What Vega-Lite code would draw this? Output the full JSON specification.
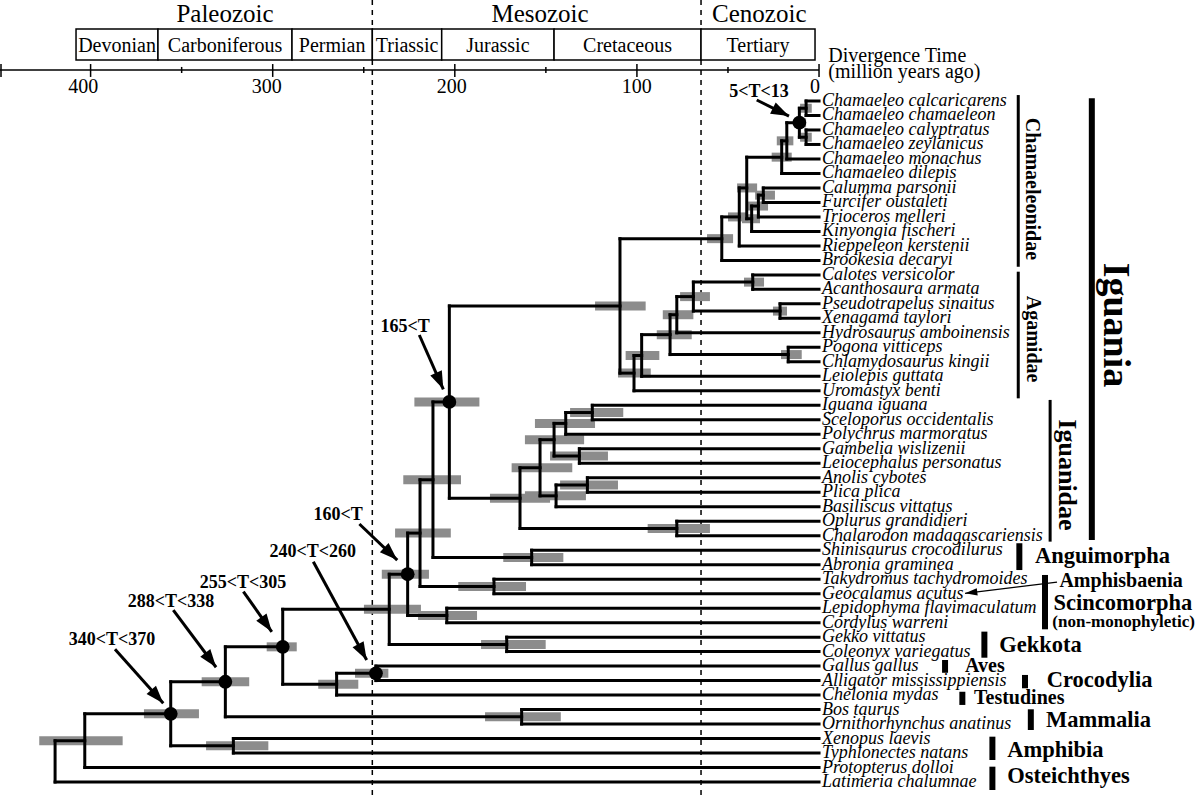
{
  "$schema": "https://vega.github.io/schema/vega-lite/v6.json",
  "width": 1200,
  "height": 800,
  "autosize": {"type": "none"},
  "padding": 0,
  "background": "white",
  "config": {"view": {"stroke": null}, "text": {"font": "Liberation Serif", "color": "black"}},
  "datasets": {
    "tree": [
      {"id": "A", "t": 7.1, "r": 0.5, "parent": "C", "lo": 4.0, "hi": 10.4},
      {"id": "B", "t": 7.1, "r": 2.5, "parent": "C", "lo": 4.0, "hi": 10.4},
      {"id": "C", "t": 10.8, "r": 1.5, "parent": "D", "lo": 7.1, "hi": 13.2, "cal": 1},
      {"id": "D", "t": 17.7, "r": 2.75, "parent": "E", "lo": 14.1, "hi": 23.2},
      {"id": "E", "t": 20.5, "r": 3.875, "parent": "J", "lo": 15.0, "hi": 26.0},
      {"id": "F", "t": 30.6, "r": 6.5, "parent": "G", "lo": 24.2, "hi": 35.1},
      {"id": "G", "t": 33.3, "r": 7.25, "parent": "H", "lo": 28.0, "hi": 39.0},
      {"id": "H", "t": 37.0, "r": 8.125, "parent": "J", "lo": 32.4, "hi": 42.3},
      {"id": "J", "t": 39.7, "r": 6.0, "parent": "I", "lo": 34.0, "hi": 45.0},
      {"id": "I", "t": 43.8, "r": 8.0, "parent": "K", "lo": 39.0, "hi": 50.0},
      {"id": "K", "t": 53.4, "r": 9.5, "parent": "L", "lo": 47.2, "hi": 61.5},
      {"id": "M", "t": 36.4, "r": 12.5, "parent": "O", "lo": 30.2, "hi": 41.2},
      {"id": "N", "t": 21.4, "r": 14.5, "parent": "O", "lo": 17.6, "hi": 25.3},
      {"id": "O", "t": 69.0, "r": 13.5, "parent": "P", "lo": 59.9, "hi": 76.3},
      {"id": "P", "t": 78.1, "r": 14.75, "parent": "R", "lo": 69.0, "hi": 85.8},
      {"id": "Q", "t": 16.9, "r": 17.5, "parent": "R", "lo": 9.5, "hi": 20.9},
      {"id": "R", "t": 81.8, "r": 16.125, "parent": "S", "lo": 69.9, "hi": 89.1},
      {"id": "S", "t": 97.4, "r": 17.5625, "parent": "T", "lo": 87.7, "hi": 106.2},
      {"id": "T", "t": 101.6, "r": 18.78, "parent": "L", "lo": 92.4, "hi": 110.4},
      {"id": "L", "t": 109.3, "r": 14.14, "parent": "AD", "lo": 95.2, "hi": 123.0},
      {"id": "U", "t": 124.5, "r": 21.5, "parent": "V", "lo": 107.5, "hi": 136.7},
      {"id": "V", "t": 139.1, "r": 22.25, "parent": "X", "lo": 123.0, "hi": 156.0},
      {"id": "W", "t": 131.6, "r": 24.5, "parent": "X", "lo": 115.9, "hi": 147.7},
      {"id": "X", "t": 145.5, "r": 23.375, "parent": "AA", "lo": 129.0, "hi": 161.5},
      {"id": "Y", "t": 127.2, "r": 26.5, "parent": "Z", "lo": 110.4, "hi": 142.2},
      {"id": "Z", "t": 144.4, "r": 27.25, "parent": "AA", "lo": 128.0, "hi": 161.5},
      {"id": "AA", "t": 153.2, "r": 25.31, "parent": "AC", "lo": 135.5, "hi": 168.8},
      {"id": "AB", "t": 78.1, "r": 29.5, "parent": "AC", "lo": 59.9, "hi": 94.1},
      {"id": "AC", "t": 164.2, "r": 27.41, "parent": "AD", "lo": 147.7, "hi": 180.7},
      {"id": "AD", "t": 203.0, "r": 20.77, "parent": "AF", "lo": 186.5, "hi": 222.2, "cal": 1},
      {"id": "AE", "t": 157.8, "r": 31.5, "parent": "AF", "lo": 140.4, "hi": 173.4},
      {"id": "AF", "t": 212.0, "r": 26.14, "parent": "AH", "lo": 196.6, "hi": 228.3},
      {"id": "AG", "t": 178.5, "r": 33.5, "parent": "AH", "lo": 160.9, "hi": 198.1},
      {"id": "AH", "t": 219.1, "r": 29.82, "parent": "AJ", "lo": 202.2, "hi": 232.8},
      {"id": "AI", "t": 204.4, "r": 35.5, "parent": "AJ", "lo": 187.8, "hi": 220.2},
      {"id": "AJ", "t": 225.9, "r": 32.66, "parent": "AL", "lo": 214.2, "hi": 240.1, "cal": 1},
      {"id": "AK", "t": 171.5, "r": 37.5, "parent": "AL", "lo": 150.1, "hi": 185.6},
      {"id": "AL", "t": 236.0, "r": 35.08, "parent": "AO", "lo": 218.6, "hi": 249.9},
      {"id": "AM", "t": 243.3, "r": 39.5, "parent": "AN", "lo": 236.5, "hi": 254.8, "cal": 1},
      {"id": "AN", "t": 264.9, "r": 40.25, "parent": "AO", "lo": 253.0, "hi": 275.0},
      {"id": "AO", "t": 294.5, "r": 37.67, "parent": "AQ", "lo": 286.8, "hi": 303.3, "cal": 1},
      {"id": "AP", "t": 163.3, "r": 42.5, "parent": "AQ", "lo": 141.8, "hi": 183.4},
      {"id": "AQ", "t": 326.0, "r": 40.08, "parent": "AS", "lo": 312.9, "hi": 339.0, "cal": 1},
      {"id": "AR", "t": 321.6, "r": 44.5, "parent": "AS", "lo": 302.4, "hi": 336.6},
      {"id": "AS", "t": 356.0, "r": 42.29, "parent": "AT", "lo": 340.5, "hi": 370.7, "cal": 1},
      {"id": "AT", "t": 403.2, "r": 44.15, "parent": "AU", "lo": 382.4, "hi": 428.2},
      {"id": "AU", "t": 419.5, "r": 45.57},
      {"id": "s0", "name": "Chamaeleo calcaricarens", "t": 0, "r": 0, "parent": "A"},
      {"id": "s1", "name": "Chamaeleo chamaeleon", "t": 0, "r": 1, "parent": "A"},
      {"id": "s2", "name": "Chamaeleo calyptratus", "t": 0, "r": 2, "parent": "B"},
      {"id": "s3", "name": "Chamaeleo zeylanicus", "t": 0, "r": 3, "parent": "B"},
      {"id": "s4", "name": "Chamaeleo monachus", "t": 0, "r": 4, "parent": "D"},
      {"id": "s5", "name": "Chamaeleo dilepis", "t": 0, "r": 5, "parent": "E"},
      {"id": "s6", "name": "Calumma parsonii", "t": 0, "r": 6, "parent": "F"},
      {"id": "s7", "name": "Furcifer oustaleti", "t": 0, "r": 7, "parent": "F"},
      {"id": "s8", "name": "Trioceros melleri", "t": 0, "r": 8, "parent": "G"},
      {"id": "s9", "name": "Kinyongia fischeri", "t": 0, "r": 9, "parent": "H"},
      {"id": "s10", "name": "Rieppeleon kerstenii", "t": 0, "r": 10, "parent": "I"},
      {"id": "s11", "name": "Brookesia decaryi", "t": 0, "r": 11, "parent": "K"},
      {"id": "s12", "name": "Calotes versicolor", "t": 0, "r": 12, "parent": "M"},
      {"id": "s13", "name": "Acanthosaura armata", "t": 0, "r": 13, "parent": "M"},
      {"id": "s14", "name": "Pseudotrapelus sinaitus", "t": 0, "r": 14, "parent": "N"},
      {"id": "s15", "name": "Xenagama taylori", "t": 0, "r": 15, "parent": "N"},
      {"id": "s16", "name": "Hydrosaurus amboinensis", "t": 0, "r": 16, "parent": "P"},
      {"id": "s17", "name": "Pogona vitticeps", "t": 0, "r": 17, "parent": "Q"},
      {"id": "s18", "name": "Chlamydosaurus kingii", "t": 0, "r": 18, "parent": "Q"},
      {"id": "s19", "name": "Leiolepis guttata", "t": 0, "r": 19, "parent": "S"},
      {"id": "s20", "name": "Uromastyx benti", "t": 0, "r": 20, "parent": "T"},
      {"id": "s21", "name": "Iguana iguana", "t": 0, "r": 21, "parent": "U"},
      {"id": "s22", "name": "Sceloporus occidentalis", "t": 0, "r": 22, "parent": "U"},
      {"id": "s23", "name": "Polychrus marmoratus", "t": 0, "r": 23, "parent": "V"},
      {"id": "s24", "name": "Gambelia wislizenii", "t": 0, "r": 24, "parent": "W"},
      {"id": "s25", "name": "Leiocephalus personatus", "t": 0, "r": 25, "parent": "W"},
      {"id": "s26", "name": "Anolis cybotes", "t": 0, "r": 26, "parent": "Y"},
      {"id": "s27", "name": "Plica plica", "t": 0, "r": 27, "parent": "Y"},
      {"id": "s28", "name": "Basiliscus vittatus", "t": 0, "r": 28, "parent": "Z"},
      {"id": "s29", "name": "Oplurus grandidieri", "t": 0, "r": 29, "parent": "AB"},
      {"id": "s30", "name": "Chalarodon madagascariensis", "t": 0, "r": 30, "parent": "AB"},
      {"id": "s31", "name": "Shinisaurus crocodilurus", "t": 0, "r": 31, "parent": "AE"},
      {"id": "s32", "name": "Abronia graminea", "t": 0, "r": 32, "parent": "AE"},
      {"id": "s33", "name": "Takydromus tachydromoides", "t": 0, "r": 33, "parent": "AG"},
      {"id": "s34", "name": "Geocalamus acutus", "t": 0, "r": 34, "parent": "AG"},
      {"id": "s35", "name": "Lepidophyma flavimaculatum", "t": 0, "r": 35, "parent": "AI"},
      {"id": "s36", "name": "Cordylus warreni", "t": 0, "r": 36, "parent": "AI"},
      {"id": "s37", "name": "Gekko vittatus", "t": 0, "r": 37, "parent": "AK"},
      {"id": "s38", "name": "Coleonyx variegatus", "t": 0, "r": 38, "parent": "AK"},
      {"id": "s39", "name": "Gallus gallus", "t": 0, "r": 39, "parent": "AM"},
      {"id": "s40", "name": "Alligator mississippiensis", "t": 0, "r": 40, "parent": "AM"},
      {"id": "s41", "name": "Chelonia mydas", "t": 0, "r": 41, "parent": "AN"},
      {"id": "s42", "name": "Bos taurus", "t": 0, "r": 42, "parent": "AP"},
      {"id": "s43", "name": "Ornithorhynchus anatinus", "t": 0, "r": 43, "parent": "AP"},
      {"id": "s44", "name": "Xenopus laevis", "t": 0, "r": 44, "parent": "AR"},
      {"id": "s45", "name": "Typhlonectes natans", "t": 0, "r": 45, "parent": "AR"},
      {"id": "s46", "name": "Protopterus dolloi", "t": 0, "r": 46, "parent": "AT"},
      {"id": "s47", "name": "Latimeria chalumnae", "t": 0, "r": 47, "parent": "AU"}
    ],
    "periods": [
      {"name": "Devonian", "s": 408.0, "e": 363.0},
      {"name": "Carboniferous", "s": 363.0, "e": 289.4},
      {"name": "Permian", "s": 289.4, "e": 245.3},
      {"name": "Triassic", "s": 245.3, "e": 207.2},
      {"name": "Jurassic", "s": 207.2, "e": 145.5},
      {"name": "Cretaceous", "s": 145.5, "e": 64.8},
      {"name": "Tertiary", "s": 64.8, "e": 2.2}
    ],
    "eras": [
      {"name": "Paleozoic", "t": 326.2},
      {"name": "Mesozoic", "t": 153.2},
      {"name": "Cenozoic", "t": 32.8}
    ],
    "ticks": [
      {"t": 449.2, "kind": "major"}, {"t": 400, "kind": "major"}, {"t": 350, "kind": "minor"},
      {"t": 300, "kind": "major"}, {"t": 250, "kind": "minor"}, {"t": 200, "kind": "major"},
      {"t": 150, "kind": "minor"}, {"t": 100, "kind": "major"}, {"t": 50, "kind": "minor"},
      {"t": 0, "kind": "major"}
    ],
    "ticklabels": [
      {"lab": "400", "t": 404.0}, {"lab": "300", "t": 303.3}, {"lab": "200", "t": 201.7},
      {"lab": "100", "t": 100.1}, {"lab": "0", "t": 2.2}
    ],
    "axistitle": [
      {"txt": "Divergence Time", "r": -2.69},
      {"txt": "(million years ago)", "r": -1.59}
    ],
    "arrows": [
      {"lab": "5<T<13", "lt": 33.0, "lr": -0.3, "t1": 34.2, "r1": -0.07, "t2": 16.5, "r2": 1.04, "kind": "cal"},
      {"lab": "165<T", "lt": 227.3, "lr": 15.92, "t1": 219.5, "r1": 16.15, "t2": 206.3, "r2": 19.9, "kind": "cal"},
      {"lab": "160<T", "lt": 264.1, "lr": 28.92, "t1": 252.4, "r1": 29.19, "t2": 231.6, "r2": 31.68, "kind": "cal"},
      {"lab": "240<T<260", "lt": 278.0, "lr": 31.45, "t1": 277.7, "r1": 31.8, "t2": 248.4, "r2": 38.58, "kind": "cal"},
      {"lab": "255<T<305", "lt": 316.3, "lr": 33.61, "t1": 316.1, "r1": 33.86, "t2": 300.5, "r2": 36.63, "kind": "cal"},
      {"lab": "288<T<338", "lt": 355.9, "lr": 34.92, "t1": 354.6, "r1": 35.13, "t2": 331.1, "r2": 39.08, "kind": "cal"},
      {"lab": "340<T<370", "lt": 388.3, "lr": 37.54, "t1": 386.6, "r1": 37.84, "t2": 360.1, "r2": 41.57, "kind": "cal"},
      {"lab": "", "t1": -130.7, "r1": 33.2, "t2": -80.2, "r2": 33.98, "kind": "note"}
    ],
    "cladebars": [
      {"clade": "Chamaeleonidae", "t": -109.4, "r1": -0.41, "r2": 11.44, "w": "thin"},
      {"clade": "Agamidae", "t": -109.4, "r1": 11.78, "r2": 20.52, "w": "thin"},
      {"clade": "Iguanidae", "t": -126.9, "r1": 20.63, "r2": 30.41, "w": "thin"},
      {"clade": "Iguania", "t": -149.8, "r1": -0.19, "r2": 30.3, "w": "thick"},
      {"clade": "Anguimorpha", "t": -110.0, "r1": 30.52, "r2": 32.37, "w": "thick"},
      {"clade": "Scincomorpha", "t": -124.1, "r1": 32.71, "r2": 36.46, "w": "thick"},
      {"clade": "Gekkota", "t": -90.8, "r1": 36.62, "r2": 38.42, "w": "thick"},
      {"clade": "Aves", "t": -69.2, "r1": 38.58, "r2": 39.46, "w": "thick"},
      {"clade": "Crocodylia", "t": -113.1, "r1": 39.61, "r2": 40.53, "w": "thick"},
      {"clade": "Testudines", "t": -78.7, "r1": 40.77, "r2": 41.68, "w": "thick"},
      {"clade": "Mammalia", "t": -116.3, "r1": 41.98, "r2": 43.41, "w": "thick"},
      {"clade": "Amphibia", "t": -95.2, "r1": 43.87, "r2": 45.48, "w": "thick"},
      {"clade": "Osteichthyes", "t": -95.2, "r1": 45.94, "r2": 47.55, "w": "thick"}
    ],
    "vlabels": [
      {"lab": "Chamaeleonidae", "t": -116.8, "r": 6.07, "lv": "family"},
      {"lab": "Agamidae", "t": -117.5, "r": 16.43, "lv": "family"},
      {"lab": "Iguanidae", "t": -136.0, "r": 25.81, "lv": "family2"},
      {"lab": "Iguania", "t": -162.5, "r": 15.46, "lv": "suborder"}
    ],
    "hlabels": [
      {"lab": "Anguimorpha", "t": -118.6, "r": 31.9, "lv": "clade"},
      {"lab": "Amphisbaenia", "t": -132.0, "r": 33.52, "lv": "minor"},
      {"lab": "Scincomorpha", "t": -128.7, "r": 35.13, "lv": "clade"},
      {"lab": "(non-monophyletic)", "t": -128.1, "r": 36.32, "lv": "note"},
      {"lab": "Gekkota", "t": -99.0, "r": 38.0, "lv": "clade"},
      {"lab": "Aves", "t": -80.2, "r": 39.43, "lv": "minor"},
      {"lab": "Crocodylia", "t": -125.0, "r": 40.46, "lv": "clade"},
      {"lab": "Testudines", "t": -85.1, "r": 41.62, "lv": "minor"},
      {"lab": "Mammalia", "t": -124.7, "r": 43.18, "lv": "clade"},
      {"lab": "Amphibia", "t": -103.4, "r": 45.25, "lv": "clade"},
      {"lab": "Osteichthyes", "t": -103.4, "r": 47.05, "lv": "clade"}
    ]
  },
  "layer": [
    {
      "data": {"values": [{"t": 245.3}, {"t": 64.8}]},
      "mark": {"type": "rule", "strokeDash": [5, 5], "strokeWidth": 1.5, "color": "black"},
      "encoding": {
        "x": {"field": "t", "type": "quantitative", "scale": {"domain": [449.75, -209.2], "nice": false, "zero": false}, "axis": null},
        "y": {"datum": -6.97, "type": "quantitative", "scale": {"domain": [48.24, -6.97], "nice": false, "zero": false}, "axis": null},
        "y2": {"datum": 47.97}
      }
    },
    {
      "data": {"name": "periods"},
      "mark": {"type": "rect", "fill": "white", "stroke": "black", "strokeWidth": 1.5},
      "encoding": {
        "x": {"field": "s", "type": "quantitative", "scale": {"domain": [449.75, -209.2], "nice": false, "zero": false}, "axis": null},
        "x2": {"field": "e"},
        "y": {"datum": -4.97, "type": "quantitative", "scale": {"domain": [48.24, -6.97], "nice": false, "zero": false}, "axis": null},
        "y2": {"datum": -2.83}
      }
    },
    {
      "data": {"name": "periods"},
      "transform": [{"calculate": "(datum.s + datum.e) / 2", "as": "m"}],
      "mark": {"type": "text", "fontSize": 20, "align": "center", "baseline": "alphabetic"},
      "encoding": {
        "x": {"field": "m", "type": "quantitative", "scale": {"domain": [449.75, -209.2], "nice": false, "zero": false}, "axis": null},
        "y": {"datum": -3.4, "type": "quantitative", "scale": {"domain": [48.24, -6.97], "nice": false, "zero": false}, "axis": null},
        "text": {"field": "name"}
      }
    },
    {
      "data": {"name": "eras"},
      "mark": {"type": "text", "fontSize": 25, "align": "center", "baseline": "alphabetic"},
      "encoding": {
        "x": {"field": "t", "type": "quantitative", "scale": {"domain": [449.75, -209.2], "nice": false, "zero": false}, "axis": null},
        "y": {"datum": -5.42, "type": "quantitative", "scale": {"domain": [48.24, -6.97], "nice": false, "zero": false}, "axis": null},
        "text": {"field": "name"}
      }
    },
    {
      "data": {"values": [{"a": 449.75, "b": 0}]},
      "mark": {"type": "rule", "strokeWidth": 1.5, "color": "black"},
      "encoding": {
        "x": {"field": "a", "type": "quantitative", "scale": {"domain": [449.75, -209.2], "nice": false, "zero": false}, "axis": null},
        "x2": {"field": "b"},
        "y": {"datum": -2.14, "type": "quantitative", "scale": {"domain": [48.24, -6.97], "nice": false, "zero": false}, "axis": null}
      }
    },
    {
      "data": {"name": "ticks"},
      "transform": [{"filter": "datum.kind == 'major'"}],
      "mark": {"type": "rule", "strokeWidth": 1.5, "color": "black"},
      "encoding": {
        "x": {"field": "t", "type": "quantitative", "scale": {"domain": [449.75, -209.2], "nice": false, "zero": false}, "axis": null},
        "y": {"datum": -2.55, "type": "quantitative", "scale": {"domain": [48.24, -6.97], "nice": false, "zero": false}, "axis": null},
        "y2": {"datum": -1.66}
      }
    },
    {
      "data": {"name": "ticks"},
      "transform": [{"filter": "datum.kind == 'minor'"}],
      "mark": {"type": "rule", "strokeWidth": 1.5, "color": "black"},
      "encoding": {
        "x": {"field": "t", "type": "quantitative", "scale": {"domain": [449.75, -209.2], "nice": false, "zero": false}, "axis": null},
        "y": {"datum": -2.35, "type": "quantitative", "scale": {"domain": [48.24, -6.97], "nice": false, "zero": false}, "axis": null},
        "y2": {"datum": -1.93}
      }
    },
    {
      "data": {"name": "ticklabels"},
      "mark": {"type": "text", "fontSize": 20, "align": "center", "baseline": "alphabetic"},
      "encoding": {
        "x": {"field": "t", "type": "quantitative", "scale": {"domain": [449.75, -209.2], "nice": false, "zero": false}, "axis": null},
        "y": {"datum": -0.53, "type": "quantitative", "scale": {"domain": [48.24, -6.97], "nice": false, "zero": false}, "axis": null},
        "text": {"field": "lab"}
      }
    },
    {
      "data": {"name": "axistitle"},
      "mark": {"type": "text", "fontSize": 20, "align": "left", "baseline": "alphabetic"},
      "encoding": {
        "x": {"datum": -5.1, "type": "quantitative", "scale": {"domain": [449.75, -209.2], "nice": false, "zero": false}, "axis": null},
        "y": {"field": "r", "type": "quantitative", "scale": {"domain": [48.24, -6.97], "nice": false, "zero": false}, "axis": null},
        "text": {"field": "txt"}
      }
    },
    {
      "data": {"name": "tree"},
      "transform": [{"filter": "isValid(datum.lo)"}],
      "mark": {"type": "rule", "strokeWidth": 9, "color": "#8c8c8c", "strokeCap": "butt"},
      "encoding": {
        "x": {"field": "lo", "type": "quantitative", "scale": {"domain": [449.75, -209.2], "nice": false, "zero": false}, "axis": null},
        "x2": {"field": "hi"},
        "y": {"field": "r", "type": "quantitative", "scale": {"domain": [48.24, -6.97], "nice": false, "zero": false}, "axis": null}
      }
    },
    {
      "data": {"name": "tree"},
      "transform": [
        {"filter": "isValid(datum.parent)"},
        {"lookup": "parent", "from": {"data": {"name": "tree"}, "key": "id", "fields": ["t"]}, "as": ["pt"]}
      ],
      "mark": {"type": "rule", "strokeWidth": 3, "color": "black", "strokeCap": "square"},
      "encoding": {
        "x": {"field": "pt", "type": "quantitative", "scale": {"domain": [449.75, -209.2], "nice": false, "zero": false}, "axis": null},
        "x2": {"field": "t"},
        "y": {"field": "r", "type": "quantitative", "scale": {"domain": [48.24, -6.97], "nice": false, "zero": false}, "axis": null}
      }
    },
    {
      "data": {"name": "tree"},
      "transform": [
        {"filter": "isValid(datum.parent)"},
        {"aggregate": [{"op": "min", "field": "r", "as": "r1"}, {"op": "max", "field": "r", "as": "r2"}], "groupby": ["parent"]},
        {"lookup": "parent", "from": {"data": {"name": "tree"}, "key": "id", "fields": ["t"]}, "as": ["pt"]}
      ],
      "mark": {"type": "rule", "strokeWidth": 3, "color": "black", "strokeCap": "square"},
      "encoding": {
        "x": {"field": "pt", "type": "quantitative", "scale": {"domain": [449.75, -209.2], "nice": false, "zero": false}, "axis": null},
        "y": {"field": "r1", "type": "quantitative", "scale": {"domain": [48.24, -6.97], "nice": false, "zero": false}, "axis": null},
        "y2": {"field": "r2"}
      }
    },
    {
      "data": {"name": "tree"},
      "transform": [{"filter": "datum.cal == 1"}],
      "mark": {"type": "point", "shape": "circle", "filled": true, "color": "black", "opacity": 1, "size": 190},
      "encoding": {
        "x": {"field": "t", "type": "quantitative", "scale": {"domain": [449.75, -209.2], "nice": false, "zero": false}, "axis": null},
        "y": {"field": "r", "type": "quantitative", "scale": {"domain": [48.24, -6.97], "nice": false, "zero": false}, "axis": null}
      }
    },
    {
      "data": {"name": "arrows"},
      "transform": [{"filter": "datum.kind == 'cal'"}],
      "mark": {"type": "rule", "color": "black", "strokeWidth": 3},
      "encoding": {
        "x": {"field": "t1", "type": "quantitative", "scale": {"domain": [449.75, -209.2], "nice": false, "zero": false}, "axis": null},
        "x2": {"field": "t2"},
        "y": {"field": "r1", "type": "quantitative", "scale": {"domain": [48.24, -6.97], "nice": false, "zero": false}, "axis": null},
        "y2": {"field": "r2"}
      }
    },
    {
      "data": {"name": "arrows"},
      "transform": [{"filter": "datum.kind == 'note'"}],
      "mark": {"type": "rule", "color": "black", "strokeWidth": 1.3},
      "encoding": {
        "x": {"field": "t1", "type": "quantitative", "scale": {"domain": [449.75, -209.2], "nice": false, "zero": false}, "axis": null},
        "x2": {"field": "t2"},
        "y": {"field": "r1", "type": "quantitative", "scale": {"domain": [48.24, -6.97], "nice": false, "zero": false}, "axis": null},
        "y2": {"field": "r2"}
      }
    },
    {
      "data": {"name": "arrows"},
      "transform": [
        {"filter": "datum.kind == 'cal'"},
        {"calculate": "atan2((datum.t1 - datum.t2) * 1.8211, -(datum.r2 - datum.r1) * 14.49) * 180 / PI", "as": "ang"}
      ],
      "mark": {"type": "point", "shape": "M0,0L-0.7,2L0.7,2Z", "filled": true, "color": "black", "opacity": 1, "size": 324},
      "encoding": {
        "x": {"field": "t2", "type": "quantitative", "scale": {"domain": [449.75, -209.2], "nice": false, "zero": false}, "axis": null},
        "y": {"field": "r2", "type": "quantitative", "scale": {"domain": [48.24, -6.97], "nice": false, "zero": false}, "axis": null},
        "angle": {"field": "ang", "type": "quantitative", "scale": null}
      }
    },
    {
      "data": {"name": "arrows"},
      "transform": [
        {"filter": "datum.kind == 'note'"},
        {"calculate": "atan2((datum.t1 - datum.t2) * 1.8211, -(datum.r2 - datum.r1) * 14.49) * 180 / PI", "as": "ang"}
      ],
      "mark": {"type": "point", "shape": "M0,0L-0.6,2L0.6,2Z", "filled": true, "color": "black", "opacity": 1, "size": 150},
      "encoding": {
        "x": {"field": "t2", "type": "quantitative", "scale": {"domain": [449.75, -209.2], "nice": false, "zero": false}, "axis": null},
        "y": {"field": "r2", "type": "quantitative", "scale": {"domain": [48.24, -6.97], "nice": false, "zero": false}, "axis": null},
        "angle": {"field": "ang", "type": "quantitative", "scale": null}
      }
    },
    {
      "data": {"name": "arrows"},
      "transform": [{"filter": "datum.lab != ''"}],
      "mark": {"type": "text", "fontSize": 18, "fontWeight": "bold", "align": "center", "baseline": "alphabetic"},
      "encoding": {
        "x": {"field": "lt", "type": "quantitative", "scale": {"domain": [449.75, -209.2], "nice": false, "zero": false}, "axis": null},
        "y": {"field": "lr", "type": "quantitative", "scale": {"domain": [48.24, -6.97], "nice": false, "zero": false}, "axis": null},
        "text": {"field": "lab"}
      }
    },
    {
      "data": {"name": "tree"},
      "transform": [{"filter": "isValid(datum.name)"}],
      "mark": {"type": "text", "fontSize": 18, "fontStyle": "italic", "align": "left", "baseline": "alphabetic", "dx": 3, "dy": 5},
      "encoding": {
        "x": {"field": "t", "type": "quantitative", "scale": {"domain": [449.75, -209.2], "nice": false, "zero": false}, "axis": null},
        "y": {"field": "r", "type": "quantitative", "scale": {"domain": [48.24, -6.97], "nice": false, "zero": false}, "axis": null},
        "text": {"field": "name"}
      }
    },
    {
      "data": {"name": "cladebars"},
      "transform": [{"filter": "datum.w == 'thin'"}],
      "mark": {"type": "rule", "color": "black", "strokeCap": "butt", "strokeWidth": 3},
      "encoding": {
        "x": {"field": "t", "type": "quantitative", "scale": {"domain": [449.75, -209.2], "nice": false, "zero": false}, "axis": null},
        "y": {"field": "r1", "type": "quantitative", "scale": {"domain": [48.24, -6.97], "nice": false, "zero": false}, "axis": null},
        "y2": {"field": "r2"}
      }
    },
    {
      "data": {"name": "cladebars"},
      "transform": [{"filter": "datum.w == 'thick'"}],
      "mark": {"type": "rule", "color": "black", "strokeCap": "butt", "strokeWidth": 6},
      "encoding": {
        "x": {"field": "t", "type": "quantitative", "scale": {"domain": [449.75, -209.2], "nice": false, "zero": false}, "axis": null},
        "y": {"field": "r1", "type": "quantitative", "scale": {"domain": [48.24, -6.97], "nice": false, "zero": false}, "axis": null},
        "y2": {"field": "r2"}
      }
    },
    {
      "data": {"name": "vlabels"},
      "transform": [{"filter": "datum.lv == 'family'"}],
      "mark": {"type": "text", "fontWeight": "bold", "fontSize": 20, "angle": 90, "align": "center", "baseline": "middle"},
      "encoding": {
        "x": {"field": "t", "type": "quantitative", "scale": {"domain": [449.75, -209.2], "nice": false, "zero": false}, "axis": null},
        "y": {"field": "r", "type": "quantitative", "scale": {"domain": [48.24, -6.97], "nice": false, "zero": false}, "axis": null},
        "text": {"field": "lab"}
      }
    },
    {
      "data": {"name": "vlabels"},
      "transform": [{"filter": "datum.lv == 'family2'"}],
      "mark": {"type": "text", "fontWeight": "bold", "fontSize": 26, "angle": 90, "align": "center", "baseline": "middle"},
      "encoding": {
        "x": {"field": "t", "type": "quantitative", "scale": {"domain": [449.75, -209.2], "nice": false, "zero": false}, "axis": null},
        "y": {"field": "r", "type": "quantitative", "scale": {"domain": [48.24, -6.97], "nice": false, "zero": false}, "axis": null},
        "text": {"field": "lab"}
      }
    },
    {
      "data": {"name": "vlabels"},
      "transform": [{"filter": "datum.lv == 'suborder'"}],
      "mark": {"type": "text", "fontWeight": "bold", "fontSize": 38, "angle": 90, "align": "center", "baseline": "middle"},
      "encoding": {
        "x": {"field": "t", "type": "quantitative", "scale": {"domain": [449.75, -209.2], "nice": false, "zero": false}, "axis": null},
        "y": {"field": "r", "type": "quantitative", "scale": {"domain": [48.24, -6.97], "nice": false, "zero": false}, "axis": null},
        "text": {"field": "lab"}
      }
    },
    {
      "data": {"name": "hlabels"},
      "transform": [{"filter": "datum.lv == 'clade'"}],
      "mark": {"type": "text", "fontWeight": "bold", "fontSize": 22.5, "align": "left", "baseline": "alphabetic"},
      "encoding": {
        "x": {"field": "t", "type": "quantitative", "scale": {"domain": [449.75, -209.2], "nice": false, "zero": false}, "axis": null},
        "y": {"field": "r", "type": "quantitative", "scale": {"domain": [48.24, -6.97], "nice": false, "zero": false}, "axis": null},
        "text": {"field": "lab"}
      }
    },
    {
      "data": {"name": "hlabels"},
      "transform": [{"filter": "datum.lv == 'minor'"}],
      "mark": {"type": "text", "fontWeight": "bold", "fontSize": 20, "align": "left", "baseline": "alphabetic"},
      "encoding": {
        "x": {"field": "t", "type": "quantitative", "scale": {"domain": [449.75, -209.2], "nice": false, "zero": false}, "axis": null},
        "y": {"field": "r", "type": "quantitative", "scale": {"domain": [48.24, -6.97], "nice": false, "zero": false}, "axis": null},
        "text": {"field": "lab"}
      }
    },
    {
      "data": {"name": "hlabels"},
      "transform": [{"filter": "datum.lv == 'note'"}],
      "mark": {"type": "text", "fontWeight": "bold", "fontSize": 17, "align": "left", "baseline": "alphabetic"},
      "encoding": {
        "x": {"field": "t", "type": "quantitative", "scale": {"domain": [449.75, -209.2], "nice": false, "zero": false}, "axis": null},
        "y": {"field": "r", "type": "quantitative", "scale": {"domain": [48.24, -6.97], "nice": false, "zero": false}, "axis": null},
        "text": {"field": "lab"}
      }
    }
  ]
}
